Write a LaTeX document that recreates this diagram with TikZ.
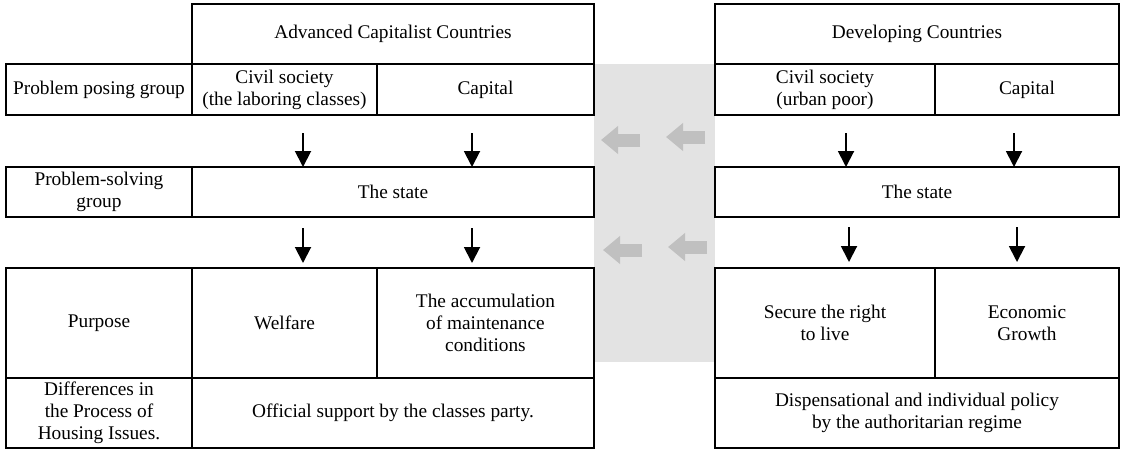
\documentclass[tikz,border=0pt]{standalone}
\usepackage{fontspec}
\setmainfont{Liberation Serif}
\usetikzlibrary{arrows.meta}
\definecolor{bandgray}{RGB}{227,227,227}
\definecolor{arrowgray}{RGB}{192,192,192}
\begin{document}
\begin{tikzpicture}[x=0.02cm, y=-0.02cm,
    cell/.style={draw, line width=0.9pt, anchor=north west, inner sep=0pt, outer sep=0pt, align=center, font=\fontsize{11}{12.5}\selectfont},
    down/.style={line width=1.1pt, -{Triangle[length=0.32cm, width=0.32cm]}},
    back/.style={line width=0.26cm, arrowgray, -{Triangle[length=0.34cm, width=0.54cm]}}]
    \useasboundingbox (0,0) rectangle (1121,450);
    \fill[bandgray] (594,64) rectangle (715,362);
    % advanced capitalist countries
    \node[cell, minimum width=8.04cm, minimum height=1.2cm] (hdA) at (192,4) {Advanced Capitalist Countries};
    \node[cell, minimum width=3.72cm, minimum height=1.02cm] (posA) at (6,64) {Problem posing group};
    \node[cell, minimum width=3.7cm, minimum height=1.02cm] (civA) at (192,64) {Civil society\\(the laboring classes)};
    \node[cell, minimum width=4.34cm, minimum height=1.02cm] (capA) at (377,64) {Capital};
    \node[cell, minimum width=3.72cm, minimum height=1.0cm] (solA) at (6,167) {Problem-solving\\group};
    \node[cell, minimum width=8.04cm, minimum height=1.0cm] (stA) at (192,167) {The state};
    \node[cell, minimum width=3.72cm, minimum height=2.2cm] (purA) at (6,268) {Purpose};
    \node[cell, minimum width=3.7cm, minimum height=2.2cm] (welA) at (192,268) {Welfare};
    \node[cell, minimum width=4.34cm, minimum height=2.2cm] (accA) at (377,268) {The accumulation\\of maintenance\\conditions};
    \node[cell, minimum width=3.72cm, minimum height=1.4cm] (difA) at (6,378) {Differences in\\the Process of\\Housing Issues.};
    \node[cell, minimum width=8.04cm, minimum height=1.4cm] (offA) at (192,378) {Official support by the classes party.};
    % developing countries
    \node[cell, minimum width=8.08cm, minimum height=1.2cm] (hdB) at (715,4) {Developing Countries};
    \node[cell, minimum width=4.4cm, minimum height=1.02cm] (civB) at (715,64) {Civil society\\(urban poor)};
    \node[cell, minimum width=3.68cm, minimum height=1.02cm] (capB) at (935,64) {Capital};
    \node[cell, minimum width=8.08cm, minimum height=1.0cm] (stB) at (715,167) {The state};
    \node[cell, minimum width=4.4cm, minimum height=2.2cm] (secB) at (715,268) {Secure the right\\to live};
    \node[cell, minimum width=3.68cm, minimum height=2.2cm] (ecoB) at (935,268) {Economic\\Growth};
    \node[cell, minimum width=8.08cm, minimum height=1.4cm] (dspB) at (715,378) {Dispensational and individual policy\\by the authoritarian regime};
    % black arrows
    \coordinate (a1) at (303,133);
    \coordinate (a2) at (472,133);
    \coordinate (a3) at (846,133);
    \coordinate (a4) at (1014,133);
    \draw[down] (a1) -- (a1 |- stA.north);
    \draw[down] (a2) -- (a2 |- stA.north);
    \draw[down] (a3) -- (a3 |- stB.north);
    \draw[down] (a4) -- (a4 |- stB.north);
    \coordinate (b1) at (303,228);
    \coordinate (b2) at (472,228);
    \coordinate (b3) at (849,227);
    \coordinate (b4) at (1017,227);
    \draw[down] (b1) -- ([yshift=0.1cm]b1 |- welA.north);
    \draw[down] (b2) -- ([yshift=0.1cm]b2 |- accA.north);
    \draw[down] (b3) -- ([yshift=0.12cm]b3 |- secB.north);
    \draw[down] (b4) -- ([yshift=0.12cm]b4 |- ecoB.north);
    % gray arrows
    \coordinate (g1s) at (640,140);
    \coordinate (g1e) at (601,140);
    \coordinate (g2s) at (705,137);
    \coordinate (g2e) at (666,137);
    \coordinate (g3s) at (642,250);
    \coordinate (g3e) at (603,250);
    \coordinate (g4s) at (707,247);
    \coordinate (g4e) at (668,247);
    \draw[back] (g1s) -- (g1e);
    \draw[back] (g2s) -- (g2e);
    \draw[back] (g3s) -- (g3e);
    \draw[back] (g4s) -- (g4e);
\end{tikzpicture}
\end{document}
